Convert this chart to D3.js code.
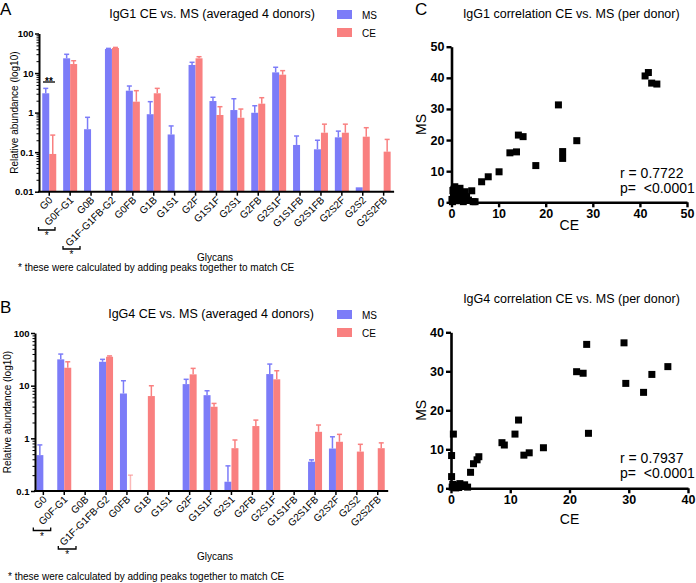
<!DOCTYPE html>
<html><head><meta charset="utf-8">
<script src="https://cdn.jsdelivr.net/npm/d3@7"></script>
<style>
body{margin:0;background:#fff}
svg{display:block}
text{font-family:"Liberation Sans",Arial,sans-serif;fill:#000}
</style>
</head><body>
<svg id="chart" width="696" height="583"></svg>
<script>
// ---------- data ----------
const glycans = ["G0","G0F-G1","G0B","G1F-G1FB-G2","G0FB","G1B","G1S1","G2F","G1S1F","G2S1","G2FB","G2S1F","G1S1FB","G2S1FB","G2S2F","G2S2","G2S2FB"];
const series = ["MS","CE"];

const igg1MS    = [3.08,23.6,0.38,40.5,3.58,0.91,0.28,16.0,1.96,1.16,0.99,10.4,0.152,0.118,0.237,0.0129,null];
const igg1MSErr = [4.1,29.8,0.76,42.0,4.7,1.89,0.46,18.7,2.44,2.24,1.49,14.0,0.256,0.20,0.34,null,null];
const igg1CE    = [0.09,16.9,null,43.0,1.89,3.08,null,23.6,0.87,0.74,1.68,9.1,null,0.31,0.31,0.246,0.103];
const igg1CEErr = [0.27,20.5,null,44.5,3.58,4.1,null,25.9,1.41,1.23,2.38,11.5,null,0.51,0.51,0.415,0.21];

const igg4MS    = [0.48,31.6,null,28.4,7.1,null,null,10.7,6.6,0.15,null,16.6,null,0.36,0.64,null,null];
const igg4MSErr = [0.75,39.8,null,31.6,12.4,null,null,13.2,8.0,0.30,null,25.7,null,0.39,1.07,null,null];
const igg4CE    = [null,21.9,null,35.4,0.05,6.35,null,16.4,3.98,0.65,1.71,13.2,null,1.33,0.86,0.56,0.65];
const igg4CEErr = [null,28.4,null,36.7,0.20,9.96,null,21.3,4.6,0.93,2.22,19.2,null,1.79,1.19,0.77,0.82];

const logTicksA = [0.01,0.1,1,10,100];
const logTickLabelsA = ["0.01","0.1","1","10","100"];
const logTicksB = [0.1,1,10,100];
const logTickLabelsB = ["0.1","1","10","100"];

const igg1ScatterCE = [41.1,41.8,42.5,43.6,22.7,14.2,15.2,26.6,23.6,23.6,12.4,13.8,17.9,10.1,7.8,6.4,4.3,4.6,
  0.2,0.4,0.7,1.1,0.9,1.8,2.2,2.5,2.9,3.6,5.0,0.3,1.5,0.6,1.3,3.2,2.0,0.1,0.5,2.7];
const igg1ScatterMS = [40.6,41.7,38.3,38.0,31.3,21.6,21.1,19.8,16.3,14.1,15.9,16.2,11.8,9.8,8.2,6.6,3.7,0.2,
  0.2,1.8,5.0,2.9,0.5,4.5,1.3,0.2,3.4,0.7,0.2,3.8,0.9,1.2,2.0,1.8,2.6,0.9,4.2,1.0];
const igg1Ticks = [0,10,20,30,40,50];

const igg4ScatterCE = [29.2,22.9,21.2,22.3,36.6,33.9,29.5,32.5,23.2,11.4,10.8,8.6,9.0,12.3,13.2,15.6,0.4,0.1,0.1,3.3,3.8,4.4,4.7,
  0.2,0.5,1.0,1.5,2.0,2.8,0.8,1.3,0.3,2.3];
const igg4ScatterMS = [37.3,36.9,29.9,29.5,31.2,29.2,26.9,24.6,14.1,17.5,13.9,11.7,11.1,8.5,9.1,10.4,13.9,8.4,3.0,4.1,6.3,7.3,8.1,
  0.3,0.8,0.5,1.2,0.6,0.3,0.1,0.2,1.0,0.9];
const igg4Ticks = [0,10,20,30,40];

const colors = {MS:"#7c7cf8", CE:"#f98080"};

// ---------- drawing ----------
const svg = d3.select("#chart");
svg.append("rect").attr("width",696).attr("height",583).attr("fill","#fff");

function barPanel(cfg){
  const g = svg.append("g");
  const x = d3.scaleBand().domain(glycans).range([cfg.bx0, cfg.bx0 + glycans.length*20.9]).padding(0);
  const xs = d3.scaleBand().domain(series).range([0,14]).padding(0);
  const y = d3.scaleLog().domain(cfg.domain).range([cfg.yBot, cfg.yTop]);
  const dmin = cfg.domain[0];

  const data = [];
  glycans.forEach((gl,i)=>{
    data.push({g:gl,s:"MS",v:cfg.ms[i],e:cfg.msErr[i]});
    data.push({g:gl,s:"CE",v:cfg.ce[i],e:cfg.ceErr[i]});
  });
  const off = (x.bandwidth()-14)/2;
  data.forEach(d=>{
    if(d.v==null) return;
    const bx = x(d.g)+off+xs(d.s);
    const below = d.v < dmin;
    const yv = y(Math.max(d.v,dmin));
    if(!below){
      g.append("rect").attr("x",bx).attr("y",yv).attr("width",xs.bandwidth()).attr("height",cfg.yBot-yv)
        .attr("fill",colors[d.s]);
    }
    if(d.e!=null){
      const ye = y(d.e), cx = bx + xs.bandwidth()/2;
      g.append("line").attr("x1",cx).attr("x2",cx).attr("y1",yv).attr("y2",ye)
        .attr("stroke",colors[d.s]).attr("stroke-width",1.5).attr("opacity",below?0.55:1);
      g.append("line").attr("x1",cx-2.5).attr("x2",cx+2.5).attr("y1",ye).attr("y2",ye)
        .attr("stroke",colors[d.s]).attr("stroke-width",1.5).attr("opacity",below?0.55:1);
    }
  });

  // y axis with minor ticks
  const minor = [];
  for(let k=Math.log10(cfg.domain[0]); k<Math.log10(cfg.domain[1]); k++){
    for(let m=2;m<=9;m++) minor.push(m*Math.pow(10,k));
  }
  const ya = g.append("g").attr("transform",`translate(${cfg.axisX},0)`)
    .call(d3.axisLeft(y).tickValues(cfg.ticks).tickFormat((d,i)=>cfg.tickLabels[i]).tickSize(4).tickSizeOuter(0).tickPadding(1.5));
  ya.select(".domain").attr("stroke-width",2);
  ya.selectAll(".tick line").attr("stroke-width",1.5);
  ya.selectAll("text").attr("font-size","9.5px").attr("font-weight","bold").attr("font-family","Liberation Sans, Arial");
  const ym = g.append("g").attr("transform",`translate(${cfg.axisX},0)`)
    .call(d3.axisLeft(y).tickValues(minor).tickFormat("").tickSize(2.5).tickSizeOuter(0));
  ym.select(".domain").remove();
  ym.selectAll(".tick line").attr("stroke-width",1);

  // x axis
  const xa = g.append("g").attr("transform",`translate(0,${cfg.yBot})`)
    .call(d3.axisBottom(x).tickSize(4).tickSizeOuter(0));
  xa.select(".domain").remove();
  g.append("line").attr("x1",cfg.axisX-1).attr("x2",cfg.bx0 + glycans.length*20.9).attr("y1",cfg.yBot).attr("y2",cfg.yBot)
    .attr("stroke","#000").attr("stroke-width",2);
  xa.selectAll(".tick line").attr("stroke-width",1.5);
  xa.selectAll("text").attr("font-size","10px").attr("font-family","Liberation Sans, Arial")
    .attr("text-anchor","end").attr("dy",0).attr("y",0)
    .attr("transform","translate(4,9) rotate(-45)");

  // y label
  g.append("text").attr("transform",`translate(${cfg.ylabX},${(cfg.yTop+cfg.yBot)/2}) rotate(-90)`)
    .attr("text-anchor","middle").attr("dy","0.35em").attr("font-size","10px").text("Relative abundance (log10)");
  // title
  g.append("text").attr("x",cfg.titleX).attr("y",cfg.titleY).attr("text-anchor","middle")
    .attr("font-size","12.5px").text(cfg.title);
  // panel letter
  g.append("text").attr("x",0).attr("y",cfg.letterY).attr("font-size","17px")
    .attr("font-family","Open Sans, sans-serif").text(cfg.letter);
  // legend
  series.forEach((s,i)=>{
    g.append("rect").attr("x",337).attr("y",cfg.legY+i*18).attr("width",15).attr("height",9).attr("fill",colors[s]);
    g.append("text").attr("x",362).attr("y",cfg.legY+i*18+8.5).attr("font-size","10px").text(s);
  });
  // brackets
  cfg.brackets.forEach(b=>{
    g.append("path").attr("d",`M${b[0]},${b[2]-3}V${b[2]}H${b[1]}V${b[2]-3}`)
      .attr("fill","none").attr("stroke","#000").attr("stroke-width",1.3);
    g.append("text").attr("x",(b[0]+b[1])/2).attr("y",b[2]+9).attr("text-anchor","middle")
      .attr("font-size","10px").text("*");
  });
  g.append("text").attr("x",cfg.glyX).attr("y",cfg.glyY).attr("text-anchor","middle").attr("font-size","10px").text("Glycans");
  g.append("text").attr("x",cfg.noteX).attr("y",cfg.noteY).attr("font-size","10px")
    .text("* these were calculated by adding peaks together to match CE");
  return {g,x,y};
}

const A = barPanel({ms:igg1MS,msErr:igg1MSErr,ce:igg1CE,ceErr:igg1CEErr,
  bx0:38.8, axisX:39, yTop:33.5, yBot:191.7, domain:[0.01,100], ticks:logTicksA, tickLabels:logTickLabelsA,
  ylabX:14, title:"IgG1 CE vs. MS (averaged 4 donors)", titleX:212, titleY:18, letter:"A", letterY:15,
  legY:10, brackets:[[38.5,55,230],[63,80,249]], glyX:215, glyY:261, noteX:18, noteY:271});
// significance marker on G0
A.g.append("line").attr("x1",43).attr("x2",55).attr("y1",82).attr("y2",82).attr("stroke","#000").attr("stroke-width",1.3);
A.g.append("text").attr("x",49).attr("y",85).attr("text-anchor","middle").attr("font-size","10px").attr("font-weight","bold").text("**");

barPanel({ms:igg4MS,msErr:igg4MSErr,ce:igg4CE,ceErr:igg4CEErr,
  bx0:32.9, axisX:35, yTop:333, yBot:491, domain:[0.1,100], ticks:logTicksB, tickLabels:logTickLabelsB,
  ylabX:7, title:"IgG4 CE vs. MS (averaged 4 donors)", titleX:211, titleY:318, letter:"B", letterY:313,
  legY:310, brackets:[[33.3,50.7,530.5],[58.3,76,549]], glyX:215, glyY:560, noteX:8, noteY:580});

function scatterPanel(cfg){
  const g = svg.append("g");
  const x = d3.scaleLinear().domain([0,cfg.max]).range([cfg.x0,cfg.x1]);
  const y = d3.scaleLinear().domain([0,cfg.max]).range([cfg.y0,cfg.y1]);
  const ya = g.append("g").attr("transform",`translate(${cfg.x0},0)`)
    .call(d3.axisLeft(y).tickValues(cfg.ticks).tickSize(5).tickSizeOuter(0).tickPadding(2));
  const xa = g.append("g").attr("transform",`translate(0,${cfg.y0})`)
    .call(d3.axisBottom(x).tickValues(cfg.ticks).tickSize(5).tickSizeOuter(0).tickPadding(2));
  [ya,xa].forEach(a=>{
    a.select(".domain").attr("stroke-width",2.6);
    a.selectAll(".tick line").attr("stroke-width",2.4);
    a.selectAll("text").attr("font-size","12.5px").attr("font-weight","bold").attr("font-family","Liberation Sans, Arial");
  });
  const pts = cfg.ce.map((c,i)=>({c, m:cfg.ms[i]}));
  g.selectAll("rect.pt").data(pts).join("rect").attr("class","pt")
    .attr("x",d=>x(d.c)-3.5).attr("y",d=>y(d.m)-3.5).attr("width",7).attr("height",7).attr("fill","#000");
  g.append("text").attr("x",(cfg.x0+cfg.x1)/2+2).attr("y",cfg.titleY).attr("text-anchor","middle")
    .attr("font-size","12.5px").text(cfg.title);
  g.append("text").attr("transform",`translate(${cfg.msX},${(cfg.y0+cfg.y1)/2}) rotate(-90)`)
    .attr("text-anchor","middle").attr("dy","0.35em").attr("font-size","14px").text("MS");
  g.append("text").attr("x",(cfg.x0+cfg.x1)/2).attr("y",cfg.ceY).attr("text-anchor","middle")
    .attr("font-size","14px").text("CE");
  g.append("text").attr("x",620).attr("y",cfg.rY).attr("font-size","14px").text(cfg.r);
  g.append("text").attr("x",620).attr("y",cfg.rY+15).attr("font-size","14px").attr("xml:space","preserve")
    .style("white-space","pre").text(cfg.p);
  if(cfg.letter) g.append("text").attr("x",415).attr("y",cfg.letterY).attr("font-size","17px")
    .attr("font-family","Open Sans, sans-serif").text(cfg.letter);
}

scatterPanel({ce:igg1ScatterCE, ms:igg1ScatterMS, max:50, ticks:igg1Ticks,
  x0:451.5, x1:687, y0:202.3, y1:46.7, title:"IgG1 correlation CE vs. MS (per donor)", titleY:18,
  msX:421, ceY:230, rY:178, r:"r = 0.7722", p:"p=  <0.0001", letter:"C", letterY:15});
scatterPanel({ce:igg4ScatterCE, ms:igg4ScatterMS, max:40, ticks:igg4Ticks,
  x0:451, x1:688, y0:488.3, y1:332.3, title:"IgG4 correlation CE vs. MS (per donor)", titleY:303,
  msX:421, ceY:524, rY:463, r:"r = 0.7937", p:"p=  <0.0001", letter:null});
</script>
</body></html>
